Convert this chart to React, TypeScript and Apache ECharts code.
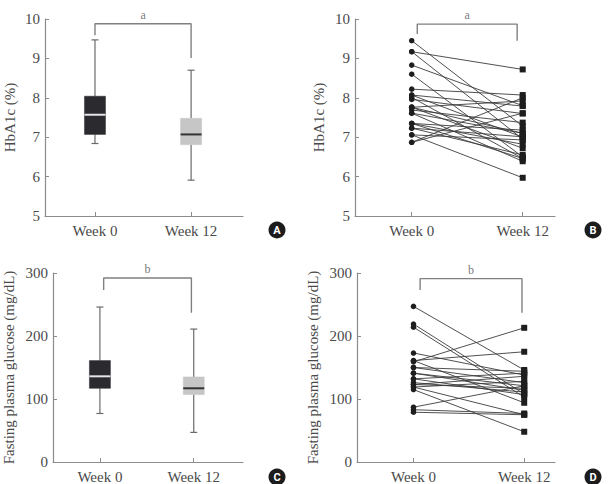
import React, { useEffect, useRef } from "react";
import * as echarts from "echarts";

const categories = ["Week 0", "Week 12"];

// Box plot stats: [min, Q1, median, Q3, max]
const hba1cBoxWeek0 = [6.84, 7.07, 7.57, 8.04, 9.47];
const hba1cBoxWeek12 = [5.91, 6.81, 7.07, 7.48, 8.7];
const fpgBoxWeek0 = [77, 117, 136, 161, 246];
const fpgBoxWeek12 = [47, 107, 117, 135, 211];

// Individual subjects
const hba1cWeek0 = [9.45, 9.17, 9.17, 8.83, 8.6, 8.22, 8.07, 8.01, 7.96, 7.76, 7.76, 7.69, 7.61, 7.61, 7.35, 7.35, 7.23, 7.23, 7.06, 7.06, 6.87, 6.87, 8.07, 7.76, 7.35];
const hba1cWeek12 = [7.28, 8.72, 6.95, 7.8, 6.5, 8.07, 7.0, 6.46, 7.6, 7.92, 6.72, 7.37, 6.39, 7.1, 7.18, 6.82, 6.55, 7.01, 5.97, 6.93, 7.61, 8.0, 7.79, 7.1, 6.46];
const fpgWeek0 = [247, 219, 214, 173, 161, 159, 150, 161, 141, 141, 132, 123, 123, 119, 119, 115, 126, 87, 83, 79, 150, 132];
const fpgWeek12 = [146, 108, 103, 138, 175, 213, 126, 94, 114, 121, 141, 117, 136, 75, 128, 48, 111, 121, 77, 75, 144, 107];

// Significance brackets: [xLeft, xRight, yLeft, yTop, yRight]
const bracketA = [0, 1, 9.59, 9.88, 9.01];
const bracketB = [0.05, 0.95, 9.62, 9.87, 9.45];
const bracketC = [0.04, 0.975, 273, 292, 237];
const bracketD = [0.06, 0.98, 273, 291, 237];
const bracketLabels = ["a", "a", "b", "b"];

const hba1cRange = [5, 10, 1];
const fpgRange = [0, 300, 100];
const panelLetters = ["A", "B", "C", "D"];

const FONT = "'Liberation Serif', 'DejaVu Serif', serif";
const AXIS_COLOR = "#8c8c8c";
const TEXT_COLOR = "#4a4a4a";

export default function App() {
  const ref = useRef<HTMLDivElement>(null);

  useEffect(() => {
    if (!ref.current) return;
    const chart = echarts.init(ref.current, null, { renderer: "svg" });

    const grids = [
      { left: 45, top: 19, width: 198, height: 197 },
      { left: 355, top: 19, width: 200, height: 197 },
      { left: 45, top: 273, width: 198, height: 189 },
      { left: 357, top: 273, width: 198, height: 189 },
    ];
    const xRanges = [
      [-0.52, 1.54],
      [-0.511, 1.291],
      [-0.5, 1.525],
      [-0.51, 1.278],
    ];
    const yRanges = [hba1cRange, hba1cRange, fpgRange, fpgRange];
    const yNames = ["HbA1c (%)", "HbA1c (%)", "Fasting plasma glucose (mg/dL)", "Fasting plasma glucose (mg/dL)"];
    const nameGaps = [28, 29, 37, 37];

    const xAxis = grids.map((g, i) => ({
      type: "value",
      gridIndex: i,
      min: xRanges[i][0],
      max: xRanges[i][1],
      axisLine: { show: true, onZero: false, lineStyle: { color: AXIS_COLOR, width: 1.2 } },
      axisTick: { show: true, inside: true, length: 4, customValues: [0, 1], lineStyle: { color: AXIS_COLOR, width: 1 } },
      axisLabel: {
        customValues: [0, 1],
        formatter: (v: number) => categories[Math.round(v)] ?? "",
        color: TEXT_COLOR,
        fontFamily: FONT,
        fontSize: 15,
        margin: 7,
      },
      splitLine: { show: false },
    }));

    const yAxis = grids.map((g, i) => ({
      type: "value",
      gridIndex: i,
      min: yRanges[i][0],
      max: yRanges[i][1],
      interval: yRanges[i][2],
      name: yNames[i],
      nameLocation: "middle",
      nameGap: nameGaps[i],
      nameTextStyle: { color: TEXT_COLOR, fontFamily: FONT, fontSize: 15 },
      axisLine: { show: true, onZero: false, lineStyle: { color: AXIS_COLOR, width: 1.2 } },
      axisTick: { show: true, inside: true, length: 4, lineStyle: { color: AXIS_COLOR, width: 1 } },
      axisLabel: { color: TEXT_COLOR, fontFamily: FONT, fontSize: 15, margin: 5 },
      splitLine: { show: false },
    }));

    const boxStyles = [
      { fill: "#2a2a2f", median: "#e6e6e6" },
      { fill: "#c6c6c6", median: "#333333" },
    ];

    const makeBoxSeries = (idx: number, w0: number[], w12: number[]) => ({
      type: "custom",
      xAxisIndex: idx,
      yAxisIndex: idx,
      silent: true,
      encode: { x: 0, y: [1, 2, 3, 4, 5] },
      data: [
        [0, ...w0],
        [1, ...w12],
      ],
      renderItem: (params: any, api: any) => {
        const x = api.value(0);
        const vals = [1, 2, 3, 4, 5].map((d) => api.value(d));
        const p = vals.map((v) => api.coord([x, v]));
        const cx = p[0][0];
        const bw = 21;
        const cw = 7;
        const st = boxStyles[params.dataIndex];
        const whisker = { stroke: "#6a6a6a", lineWidth: 1.2 };
        return {
          type: "group",
          children: [
            { type: "line", shape: { x1: cx, y1: p[0][1], x2: cx, y2: p[1][1] }, style: whisker },
            { type: "line", shape: { x1: cx, y1: p[3][1], x2: cx, y2: p[4][1] }, style: whisker },
            { type: "line", shape: { x1: cx - cw / 2, y1: p[0][1], x2: cx + cw / 2, y2: p[0][1] }, style: whisker },
            { type: "line", shape: { x1: cx - cw / 2, y1: p[4][1], x2: cx + cw / 2, y2: p[4][1] }, style: whisker },
            {
              type: "rect",
              shape: { x: cx - bw / 2, y: p[3][1], width: bw, height: p[1][1] - p[3][1] },
              style: { fill: st.fill, stroke: st.fill, lineWidth: 0.5 },
            },
            {
              type: "line",
              shape: { x1: cx - bw / 2, y1: p[2][1], x2: cx + bw / 2, y2: p[2][1] },
              style: { stroke: st.median, lineWidth: 2 },
            },
          ],
        };
      },
    });

    const makePairSeries = (idx: number, w0: number[], w12: number[]) =>
      w0.map((v, k) => ({
        type: "line",
        xAxisIndex: idx,
        yAxisIndex: idx,
        silent: true,
        lineStyle: { color: "#3c3c3c", width: 0.9 },
        itemStyle: { color: "#1e1e1e" },
        data: [
          { value: [0, v], symbol: "circle", symbolSize: 5.5 },
          { value: [1, w12[k]], symbol: "rect", symbolSize: 6 },
        ],
      }));

    const brackets = [bracketA, bracketB, bracketC, bracketD];
    const bracketSeries = brackets.flatMap((b, i) => [
      {
        type: "line",
        xAxisIndex: i,
        yAxisIndex: i,
        silent: true,
        symbol: "none",
        lineStyle: { color: "#808080", width: 1.4 },
        data: [
          [b[0], b[2]],
          [b[0], b[3]],
          [b[1], b[3]],
          [b[1], b[4]],
        ],
      },
      {
        type: "scatter",
        xAxisIndex: i,
        yAxisIndex: i,
        silent: true,
        symbolSize: 0,
        label: {
          show: true,
          position: "top",
          distance: 3,
          formatter: bracketLabels[i],
          color: "#555",
          fontFamily: FONT,
          fontSize: 12,
        },
        data: [[(b[0] + b[1]) / 2, b[3]]],
      },
    ]);

    const badgePos = [
      [277, 230],
      [593, 230],
      [277, 477],
      [593, 477],
    ];
    const graphic = badgePos.flatMap((p, i) => [
      { type: "circle", silent: true, shape: { cx: p[0], cy: p[1], r: 8.5 }, style: { fill: "#1c1c1c" } },
      {
        type: "text",
        silent: true,
        x: p[0],
        y: p[1] + 0.5,
        style: {
          text: panelLetters[i],
          fill: "#ffffff",
          font: "bold 11px Roboto, 'DejaVu Sans', sans-serif",
          align: "center",
          verticalAlign: "middle",
        },
      },
    ]);

    chart.setOption({
      animation: false,
      backgroundColor: "#ffffff",
      grid: grids,
      xAxis,
      yAxis,
      graphic,
      series: [
        makeBoxSeries(0, hba1cBoxWeek0, hba1cBoxWeek12),
        makeBoxSeries(2, fpgBoxWeek0, fpgBoxWeek12),
        ...makePairSeries(1, hba1cWeek0, hba1cWeek12),
        ...makePairSeries(3, fpgWeek0, fpgWeek12),
        ...bracketSeries,
      ],
    });

    return () => chart.dispose();
  }, []);

  return (
    <div
      ref={ref}
      style={{ position: "fixed", left: 0, top: 0, width: 610, height: 484, background: "#fff" }}
    />
  );
}
